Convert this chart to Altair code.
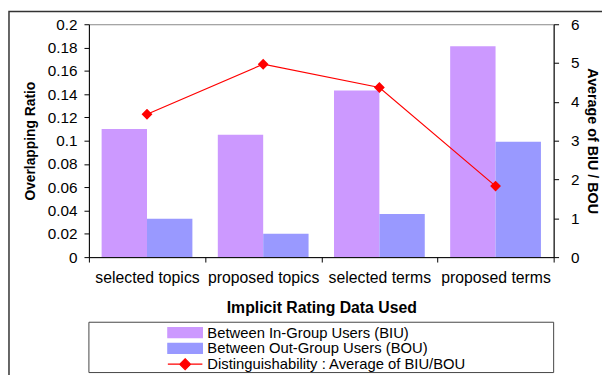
import altair as alt
import pandas as pd

categories = ["selected topics", "proposed topics", "selected terms", "proposed terms"]
biu = [0.110, 0.105, 0.143, 0.181]
bou = [0.033, 0.020, 0.037, 0.099]
ratio = [3.68, 4.97, 4.37, 1.83]
series = ["Between In-Group Users (BIU)", "Between Out-Group Users (BOU)",
          "Distinguishability : Average of BIU/BOU"]
colors = ["#cc99ff", "#9999ff", "#ff0000"]
left_ticks = [0, 0.02, 0.04, 0.06, 0.08, 0.1, 0.12, 0.14, 0.16, 0.18, 0.2]
right_ticks = [0, 1, 2, 3, 4, 5, 6]

FONT = "Liberation Sans"

bars_df = pd.DataFrame({
    "cat": categories * 2,
    "series": [series[0]] * 4 + [series[1]] * 4,
    "value": biu + bou,
})
line_df = pd.DataFrame({"cat": categories, "series": [series[2]] * 4, "ratio": ratio})
frame_df = pd.DataFrame({"a": [0]})

rect_path = "M-3.5,-1H3.5V1H-3.5Z"
line_path = "M-3.5,0H3.5M0,-1.1L1.1,0L0,1.1L-1.1,0Z"

legend = alt.Legend(orient="none", legendX=90, legendY=305, title=None, padding=0,
                    labelFontSize=15, labelFont=FONT, labelColor="black", labelLimit=600,
                    symbolSize=100, symbolStrokeWidth=1.2, rowPadding=-3,
                    labelOffset=15, symbolOffset=0)

color = alt.Color("series:N", scale=alt.Scale(domain=series, range=colors), legend=legend)
shape = alt.Shape("series:N", scale=alt.Scale(domain=series, range=[rect_path, rect_path, line_path]),
                  legend=legend)

x_enc = alt.X("cat:N", sort=categories, scale=alt.Scale(paddingInner=0, paddingOuter=0),
              axis=alt.Axis(title="Implicit Rating Data Used", labelAngle=0, tickBand="extent",
                            tickSize=5, labelPadding=8, titlePadding=14, labelFontSize=16,
                            titleFontSize=16))

right_y = alt.Y("ratio:Q", scale=alt.Scale(domain=[0, 6], nice=False),
                axis=alt.Axis(title="Average of BIU / BOU", orient="right", values=right_ticks,
                              grid=False, tickSize=5, labelPadding=12, titlePadding=6,
                              titleFontSize=14.5))

frame = alt.Chart(frame_df).mark_rect(fill=None, stroke="#333333", strokeWidth=1.5, clip=False).encode(
    x=alt.value(-81), x2=alt.value(620), y=alt.value(-13), y2=alt.value(420))
legend_box = alt.Chart(frame_df).mark_rect(fill=None, stroke="#444444", strokeWidth=1, clip=False).encode(
    x=alt.value(0), x2=alt.value(471), y=alt.value(302), y2=alt.value(353))

bars = alt.Chart(bars_df).mark_bar().encode(
    x=x_enc,
    xOffset=alt.XOffset("series:N", sort=series[:2], scale=alt.Scale(paddingInner=0, paddingOuter=0.28)),
    y=alt.Y("value:Q", scale=alt.Scale(domain=[0, 0.2], nice=False),
            axis=alt.Axis(title="Overlapping Ratio", values=left_ticks, format="~g", grid=False,
                          tickSize=5, labelPadding=7, titlePadding=10, titleFontSize=14)),
    color=color,
)

line = alt.Chart(line_df).mark_line(color="#ff0000", strokeWidth=1.2).encode(
    x=alt.X("cat:N", sort=categories),
    y=right_y,
    color=color,
)
points = alt.Chart(line_df).mark_point(filled=True, size=100, opacity=1, strokeWidth=0).encode(
    x=alt.X("cat:N", sort=categories),
    y=right_y,
    color=color,
    shape=shape,
)

right = alt.layer(line, points)
chart = alt.layer(frame, legend_box, bars, right).resolve_scale(y="independent").properties(
    width=471, height=236,
    padding={"left": 82, "top": 14, "right": 49, "bottom": 117},
    autosize=alt.AutoSizeParams(type="none"),
).configure_view(stroke="#888888", strokeWidth=1).configure_axis(
    labelFont=FONT, titleFont=FONT, labelFontSize=15.5, titleFontSize=14, titleFontWeight="bold",
    labelColor="black", titleColor="black", domainColor="black", tickColor="black",
)

chart.save("out.html", embed_options={"renderer": "svg", "actions": False})
